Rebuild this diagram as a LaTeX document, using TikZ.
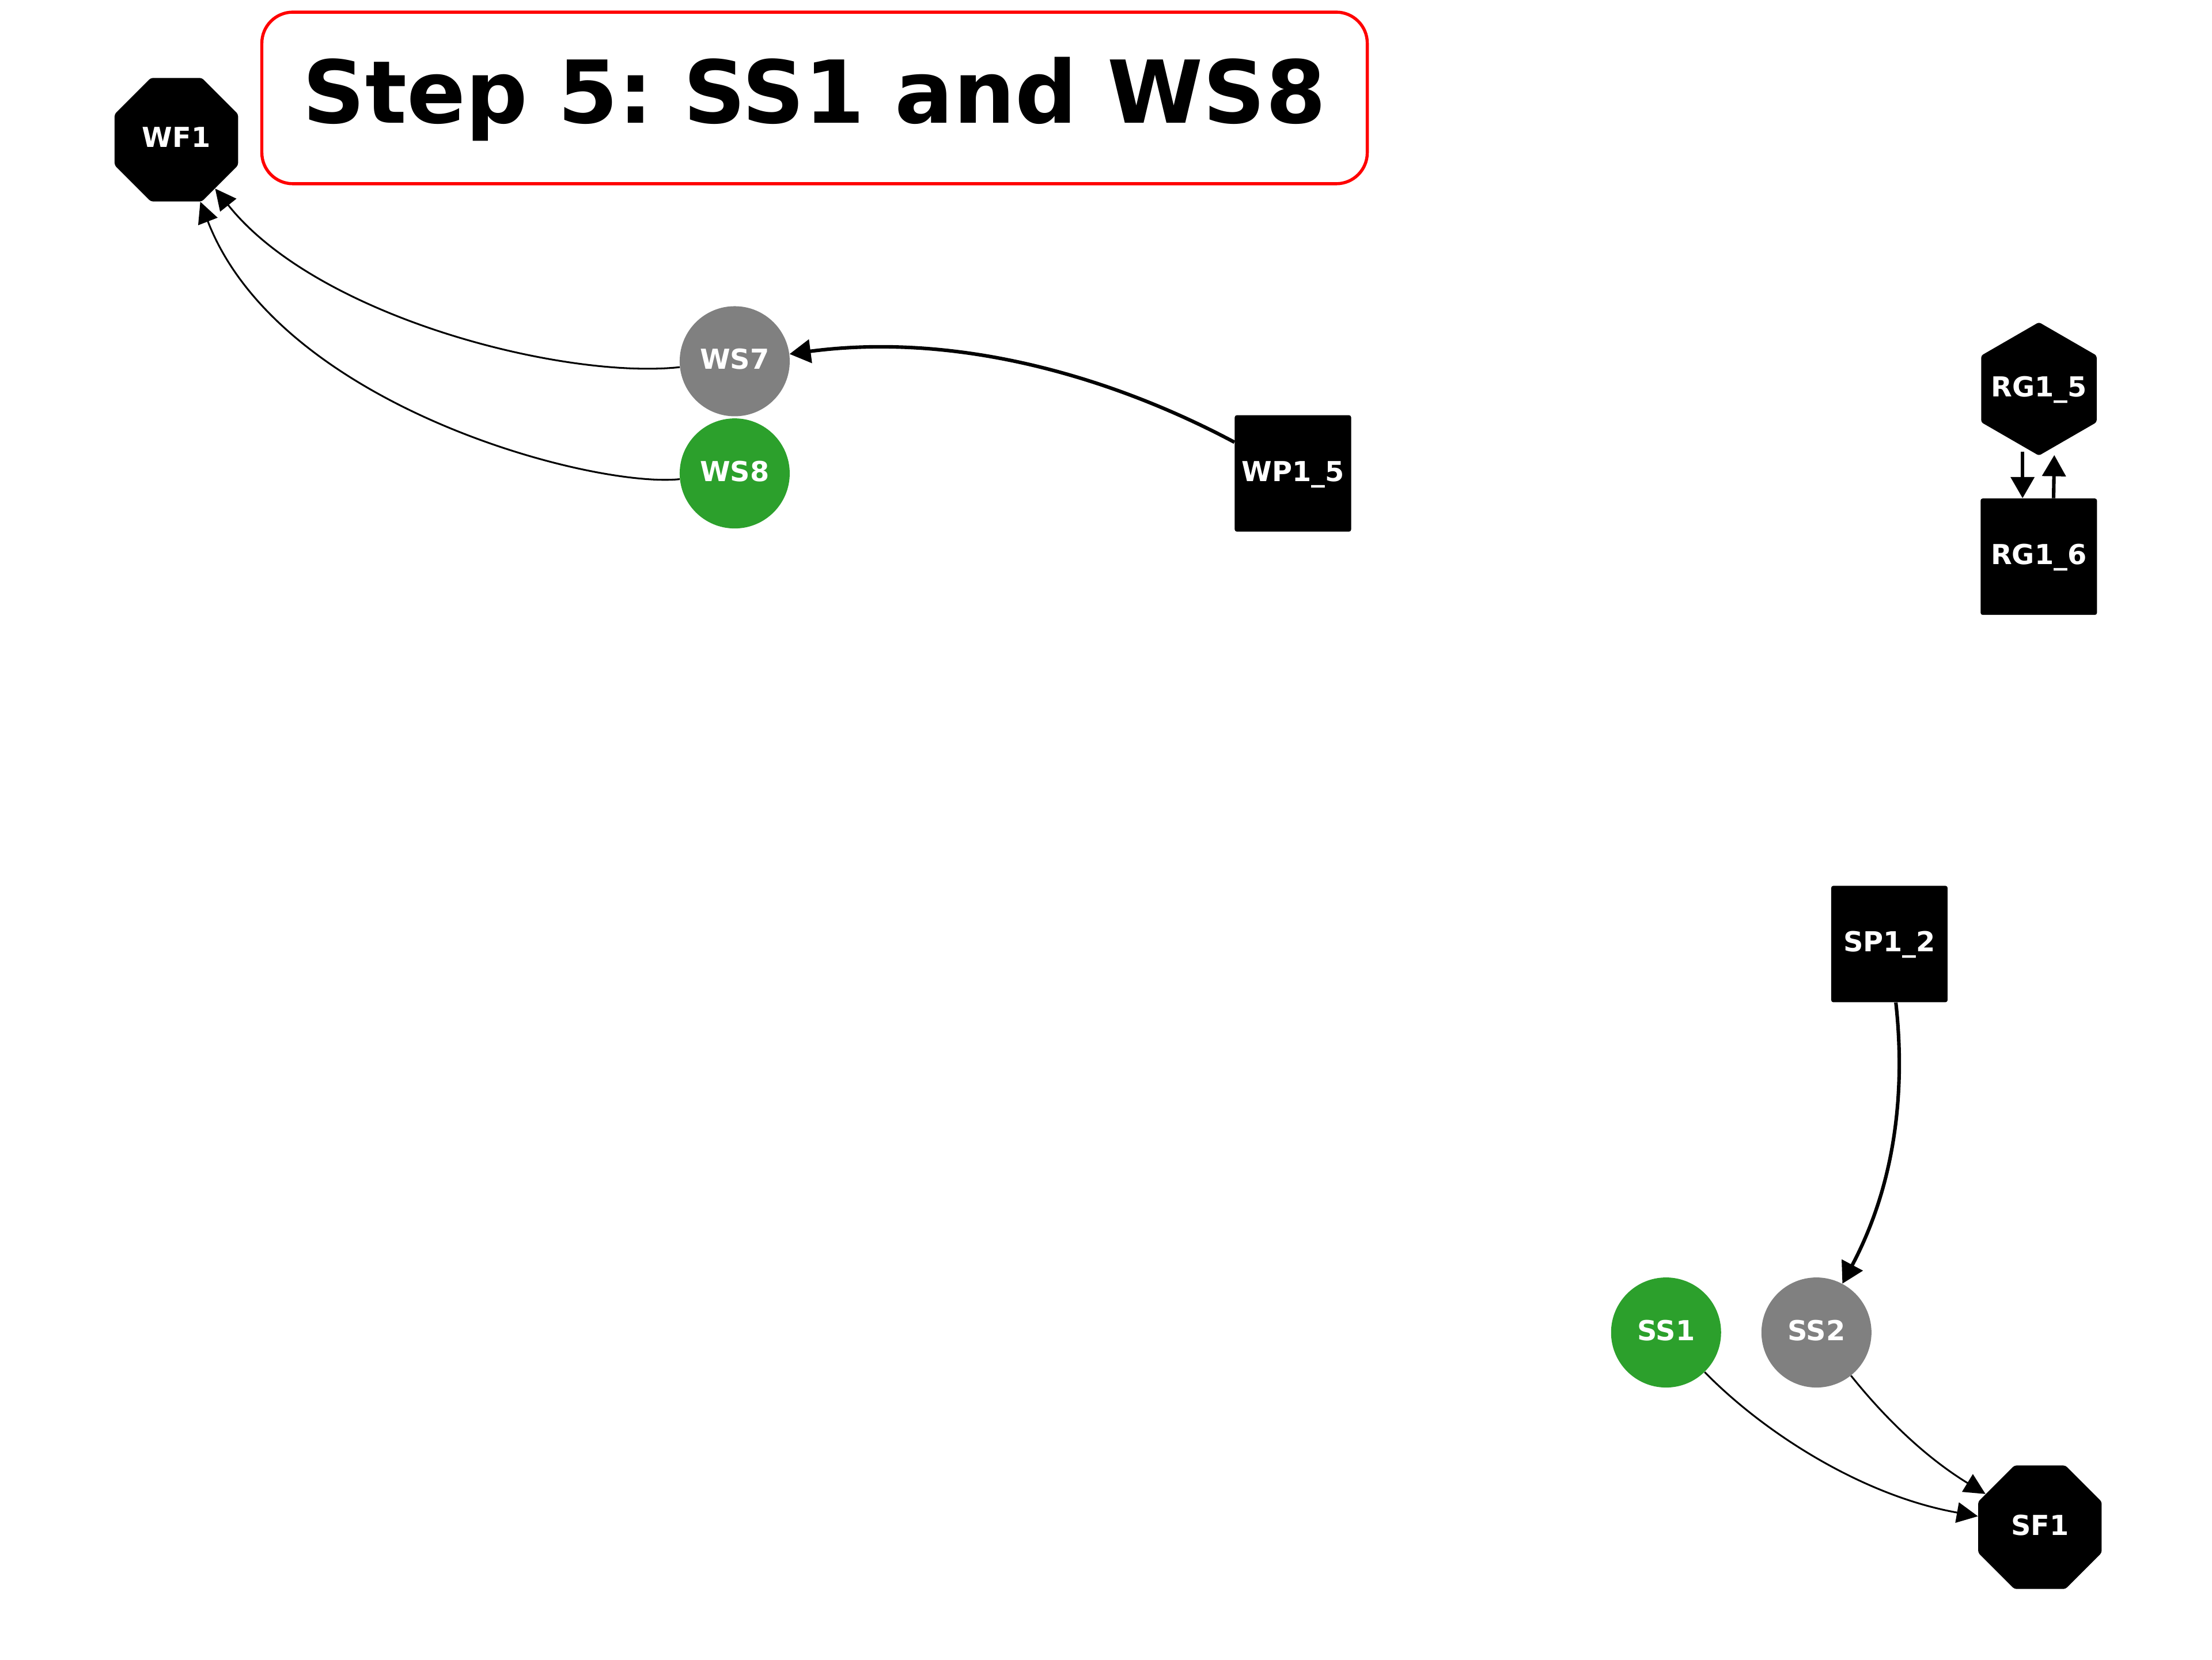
\documentclass[tikz,border=0pt]{standalone}
\usepackage{fontspec}
\setmainfont{DejaVu Sans}
\usetikzlibrary{shapes.geometric,arrows.meta}
\definecolor{nodegreen}{HTML}{2CA02C}
\definecolor{nodegray}{HTML}{808080}
\frenchspacing
\begin{document}
\begin{tikzpicture}[x=1pt,y=-1pt,
  base/.style={text=white, font=\fontsize{19.5}{23}\selectfont\bfseries, inner sep=0pt, text height=14.2pt, text depth=3.2pt},
  octnode/.style={base, regular polygon, regular polygon sides=8, minimum size=94.7pt, fill=black, rounded corners=1.5pt},
  hexnode/.style={regular polygon, regular polygon sides=6, shape border rotate=30, inner sep=0pt, minimum size=94.5pt, fill=black, rounded corners=1.5pt},
  hexlabel/.style={base},
  sqnode/.style={base, rectangle, minimum width=82.5pt, minimum height=82.5pt, fill=black, rounded corners=1.5pt},
  grnode/.style={base, circle, minimum size=78pt, fill=nodegreen},
  gynode/.style={base, circle, minimum size=78pt, fill=nodegray},
  thinedge/.style={line width=1.25pt, -{Triangle[length=15pt,width=14.5pt]}},
  thickedge/.style={line width=2.5pt, -{Triangle[length=15pt,width=16.5pt]}},
  titlebox/.style={draw=red, line width=2.2pt, rounded corners=22pt, minimum width=783.6pt, minimum height=121.6pt, inner sep=0pt, font=\fontsize{61.5}{74}\selectfont\bfseries, text height=44.8pt, text depth=9.2pt}
]
\useasboundingbox (0,0) rectangle (1568,1176);

\node[titlebox] (title) at (577.4,69.4) {Step 5: SS1 and WS8};

\node[octnode] (WF1) at (125,99) {WF1};
\node[gynode] (WS7) at (520.8,256) {WS7};
\node[grnode] (WS8) at (520.8,335.5) {WS8};
\node[sqnode] (WP15) at (916.5,335.5) {WP1\_5};
\node[hexnode, label={[hexlabel]center:RG1\_5}] (RG15) at (1445.3,275.6) {};
\node[sqnode] (RG16) at (1445.2,394.5) {RG1\_6};
\node[sqnode] (SP12) at (1339.3,669) {SP1\_2};
\node[grnode] (SS1) at (1181,944.3) {SS1};
\node[gynode] (SS2) at (1287.6,944.3) {SS2};
\node[octnode] (SF1) at (1446,1082.3) {SF1};

\draw[thinedge] (WS7) .. controls (400,269) and (225,225) .. (WF1);
\draw[thinedge] (WS8) .. controls (420,346) and (198,288) .. (WF1);
\draw[thickedge] (WP15) .. controls (790,268) and (680,235) .. (WS7);
\draw[thickedge] ([xshift=-11.6pt,yshift=-44.4pt]RG15.center) -- ([xshift=-11.5pt]RG16.north);
\draw[thickedge] ([xshift=10.5pt]RG16.north) -- ([xshift=10.9pt,yshift=-46.9pt]RG15.center);
\draw[thickedge] (SP12) .. controls (1351,775) and (1343,840) .. (SS2);
\draw[thinedge] (SS1) .. controls (1250,1015) and (1320,1060) .. (SF1);
\draw[thinedge] (SS2) .. controls (1333,1001) and (1362,1031) .. (SF1);
\end{tikzpicture}
\end{document}
